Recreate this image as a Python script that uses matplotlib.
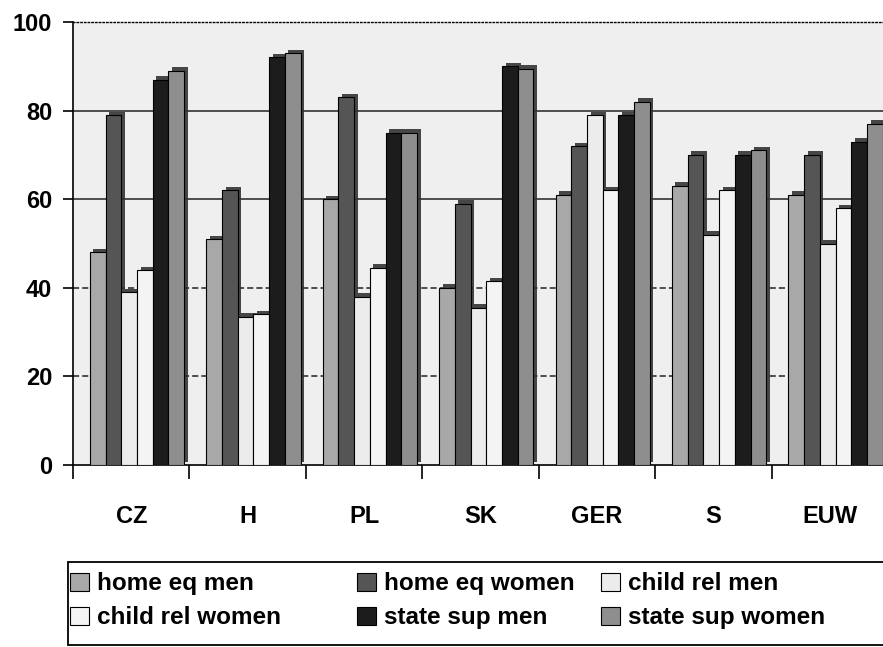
import matplotlib.pyplot as plt
import matplotlib.patheffects as pe
from matplotlib.patches import Rectangle
import numpy as np

plt.rcParams['font.family'] = ['Liberation Sans', 'DejaVu Sans']
plt.rcParams['font.weight'] = 'bold'

countries = ['CZ', 'H', 'PL', 'SK', 'GER', 'S', 'EUW']
series_names = ['home eq men', 'home eq women', 'child rel men',
                'child rel women', 'state sup men', 'state sup women']

home_eq_men = [48, 51, 60, 40, 61, 63, 61]
home_eq_women = [79, 62, 83, 59, 72, 70, 70]
child_rel_men = [39, 33.5, 38, 35.5, 79, 52, 50]
child_rel_women = [44, 34, 44.5, 41.5, 62, 62, 58]
state_sup_men = [87, 92, 75, 90, 79, 70, 73]
state_sup_women = [89, 93, 75, 89.5, 82, 71, 77]

series_values = [home_eq_men, home_eq_women, child_rel_men,
                 child_rel_women, state_sup_men, state_sup_women]
colors = ['#a8a8a8', '#555555', '#ececec', '#f4f4f4', '#1c1c1c', '#8e8e8e']


def main():
    fig = plt.figure(figsize=(8.83, 6.47), dpi=100)
    fig.patch.set_facecolor('white')
    # axes runs past the right edge like the scanned original
    ax = fig.add_axes([73 / 883, 182 / 647, 815 / 883, 443 / 647])
    ax.set_facecolor('#efefef')

    x = np.arange(len(countries))
    w = 0.135
    handles = []
    for i, (vals, col) in enumerate(zip(series_values, colors)):
        bars = ax.bar(x + (i - 2.5) * w + 0.05, vals, w, color=col,
                      edgecolor='black', linewidth=0.8, zorder=3,
                      label=series_names[i])
        for b in bars:
            b.set_path_effects([pe.SimplePatchShadow(offset=(2.5, 2.5),
                                                     shadow_rgbFace='#333333',
                                                     alpha=0.9),
                                pe.Normal()])
        handles.append(bars)

    ax.set_xlim(-0.5, 6.5)
    ax.set_ylim(0, 100)
    ax.set_yticks([0, 20, 40, 60, 80, 100])
    # back wall gridlines: solid up top, dashed lower down
    for yv in [60, 80]:
        ax.axhline(yv, color='#222222', linewidth=1.1, zorder=1)
    for yv in [20, 40]:
        ax.axhline(yv, color='#222222', linewidth=1.1, linestyle=(0, (4, 2)), zorder=1)
    ax.tick_params(axis='y', labelsize=17, length=7, width=1.2, pad=8)
    ax.set_xticks(x)
    ax.set_xticklabels(countries, fontsize=17, fontweight='bold')
    ax.tick_params(axis='x', length=0, pad=29)
    # small separator ticks between groups
    ax.set_xticks(np.arange(-0.5, 7, 1), minor=True)
    ax.tick_params(axis='x', which='minor', length=10, width=1.2)

    ax.spines['top'].set_linestyle(':')
    ax.spines['top'].set_linewidth(1)
    ax.spines['right'].set_visible(False)
    ax.spines['left'].set_linewidth(1.2)
    ax.spines['bottom'].set_linewidth(1.2)

    # legend box, three columns laid out by hand
    fig.add_artist(Rectangle((68 / 883, 2 / 647), 0.95, 83 / 647,
                             transform=fig.transFigure, facecolor='white',
                             edgecolor='black', linewidth=1.3, zorder=1))
    col_x = [51 / 883, 338 / 883, 582 / 883]
    order = [[0, 3], [1, 4], [2, 5]]
    for cx, idx in zip(col_x, order):
        leg = fig.legend(handles=[handles[k] for k in idx],
                         labels=[series_names[k] for k in idx],
                         loc='upper left', bbox_to_anchor=(cx, 94 / 647),
                         fontsize=17.5, frameon=False, handlelength=0.75,
                         handleheight=0.75, handletextpad=0.35,
                         borderpad=0.3, labelspacing=0.45)
        leg.set_zorder(2)
        for h in leg.legend_handles:
            h.set_path_effects([])

    fig.savefig('out.png', dpi=100)


if __name__ == "__main__":
    main()
